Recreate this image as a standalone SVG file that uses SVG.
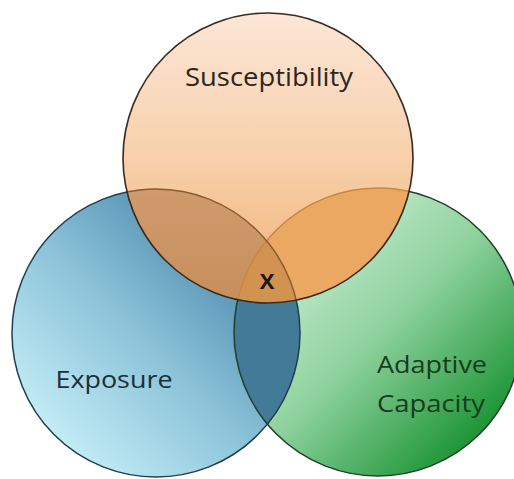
<svg xmlns="http://www.w3.org/2000/svg" width="514" height="479" viewBox="0 0 514 479">
<style>
.lbl{font-family:"Open Sans","Noto Sans","Liberation Sans",sans-serif;text-anchor:middle}
</style>
<defs>
<linearGradient id="gB" x1="0.15" y1="0.9" x2="0.9" y2="0.15">
<stop offset="0" stop-color="#c6eef7"/>
<stop offset="0.45" stop-color="#8cc3d9"/>
<stop offset="1" stop-color="#3c7aa0"/>
</linearGradient>
<linearGradient id="gG" x1="0.15" y1="0.1" x2="0.9" y2="0.85">
<stop offset="0" stop-color="#d4f3dc"/>
<stop offset="0.5" stop-color="#8fd29e"/>
<stop offset="1" stop-color="#17912f"/>
</linearGradient>
<linearGradient id="gO" x1="0" y1="0" x2="0" y2="1">
<stop offset="0" stop-color="#fce6d6"/>
<stop offset="0.5" stop-color="#f8d0ab"/>
<stop offset="1" stop-color="#f1b073"/>
</linearGradient>
<linearGradient id="gOB" x1="0" y1="0" x2="0" y2="1">
<stop offset="0" stop-color="#cf9a6c"/>
<stop offset="1" stop-color="#bd7d44"/>
</linearGradient>
<clipPath id="cB"><circle cx="156" cy="333" r="144"/></clipPath>
<clipPath id="cG"><circle cx="378" cy="332" r="144"/></clipPath>
<clipPath id="cO"><circle cx="268" cy="158" r="145"/></clipPath>
</defs>
<rect width="514" height="479" fill="#ffffff"/>
<g id="exposure">
<circle cx="156" cy="333" r="144" fill="url(#gB)"/>
</g>
<g id="adaptive-capacity">
<circle cx="378" cy="332" r="144" fill="url(#gG)"/>
</g>
<g id="overlap-exposure-adaptive">
<circle cx="378" cy="332" r="144" fill="#437a98" clip-path="url(#cB)"/>
<circle cx="156" cy="333" r="144" fill="none" stroke="#1d3f4e" stroke-width="1.5"/>
<circle cx="378" cy="332" r="144" fill="none" stroke="#1f3f2a" stroke-width="1.5"/>
</g>
<g id="susceptibility">
<circle cx="268" cy="158" r="145" fill="url(#gO)"/>
<g clip-path="url(#cO)">
<circle cx="156" cy="333" r="144" fill="url(#gOB)"/>
<circle cx="378" cy="332" r="144" fill="#eba862"/>
<g clip-path="url(#cB)"><circle cx="378" cy="332" r="144" fill="#d39350"/></g>
<circle cx="378" cy="332" r="144" fill="none" stroke="#c7873f" stroke-width="1.5"/>
<circle cx="156" cy="333" r="144" fill="none" stroke="#8a5a32" stroke-width="1.5"/>
</g>
<circle cx="268" cy="158" r="145" fill="none" stroke="#3a2a1e" stroke-width="1.6"/>
</g>
<g id="labels">
<text class="lbl" x="269" y="86" font-size="25" fill="#2b2622" textLength="168" lengthAdjust="spacingAndGlyphs">Susceptibility</text>
<text class="lbl" x="114" y="388" font-size="24" fill="#1b2f3b" textLength="117" lengthAdjust="spacingAndGlyphs">Exposure</text>
<text class="lbl" x="432" y="373" font-size="24" fill="#173c1f" textLength="110" lengthAdjust="spacingAndGlyphs">Adaptive</text>
<text class="lbl" x="431" y="412" font-size="24" fill="#173c1f" textLength="108" lengthAdjust="spacingAndGlyphs">Capacity</text>
<text class="lbl" x="267" y="289" font-size="22" font-weight="bold" fill="#1a1510">X</text>
</g>
</svg>
